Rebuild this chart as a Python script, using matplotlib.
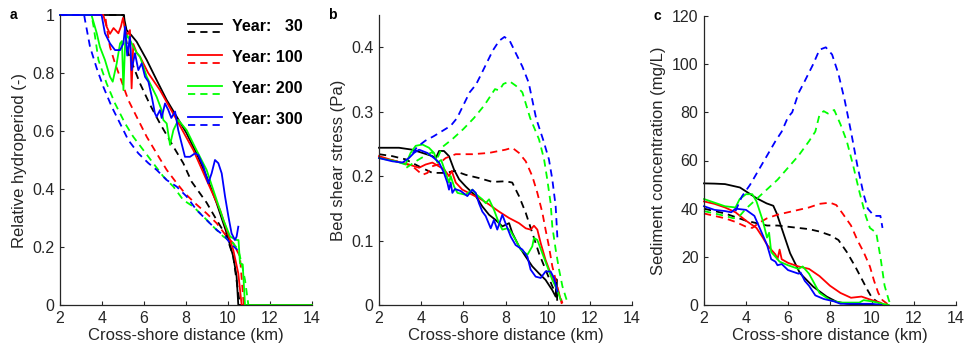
import matplotlib
matplotlib.use("Agg")
import matplotlib.pyplot as plt

plt.rcParams['font.family'] = ['Liberation Sans', 'DejaVu Sans']

# ---------------- Data ----------------
years = ["Year:   30", "Year: 100", "Year: 200", "Year: 300"]
colors = ["#000000", "#ff0000", "#00ff00", "#0000ff"]

# Panel a: relative hydroperiod
a_blk_s_x = [2, 5.02, 5.17, 5.4, 5.65, 6.13, 6.6, 7.08, 7.56, 8.03, 8.5, 8.98, 9.46, 9.94, 10.25, 10.41, 10.49, 14]
a_blk_s_y = [1, 1, 0.948, 0.93, 0.908, 0.845, 0.776, 0.707, 0.649, 0.592, 0.523, 0.443, 0.351, 0.247, 0.167, 0.098, 0, 0]
a_red_s_x = [2, 4.06, 4.22, 4.38, 4.55, 4.78, 4.9, 5.0, 5.1, 5.2, 5.33, 5.41, 5.49, 5.65, 5.81, 6.2, 6.76, 7.56, 8.35, 8.98, 9.62, 9.94, 10.25, 10.49, 10.65, 14]
a_red_s_y = [1, 1, 0.96, 0.935, 0.955, 0.937, 0.96, 0.99, 0.95, 0.93, 0.948, 0.747, 0.9, 0.87, 0.856, 0.80, 0.741, 0.638, 0.534, 0.431, 0.328, 0.259, 0.19, 0.109, 0, 0]
a_grn_s_x = [2, 3.5, 3.75, 3.9, 4.14, 4.38, 4.51, 4.7, 4.86, 4.95, 5.02, 5.1, 5.2, 5.33, 5.5, 5.65, 5.81, 6.13, 6.6, 6.84, 6.92, 7.08, 7.24, 7.4, 7.63, 8.03, 8.5, 8.98, 9.46, 9.78, 10.1, 10.41, 10.5, 10.57, 10.7, 10.81, 14]
a_grn_s_y = [1, 1, 0.937, 0.89, 0.845, 0.787, 0.77, 0.833, 0.902, 0.91, 0.741, 0.9, 0.93, 0.914, 0.89, 0.87, 0.856, 0.787, 0.718, 0.672, 0.638, 0.626, 0.552, 0.603, 0.638, 0.603, 0.534, 0.466, 0.362, 0.293, 0.236, 0.224, 0.224, 0.144, 0.14, 0, 0]
a_blu_s_x = [2, 3.98, 4.14, 4.38, 4.62, 4.86, 5.02, 5.1, 5.2, 5.33, 5.41, 5.57, 5.73, 5.89, 6.05, 6.21, 6.37, 6.52, 6.6, 6.76, 6.84, 7.0, 7.16, 7.3, 7.48, 7.63, 7.79, 7.95, 8.19, 8.43, 8.59, 8.83, 9.06, 9.22, 9.38, 9.54, 9.7, 9.86, 10.02, 10.17, 10.33, 10.41, 10.49]
a_blu_s_y = [1, 1, 0.937, 0.902, 0.879, 0.879, 0.902, 0.96, 0.86, 0.925, 0.81, 0.868, 0.81, 0.833, 0.787, 0.77, 0.718, 0.661, 0.649, 0.672, 0.645, 0.695, 0.672, 0.645, 0.667, 0.603, 0.557, 0.511, 0.511, 0.523, 0.517, 0.477, 0.42, 0.454, 0.5, 0.489, 0.454, 0.374, 0.305, 0.247, 0.224, 0.236, 0.27]

a_blk_d_x = [2, 5.05, 5.1, 5.25, 5.81, 6.29, 6.76, 7.4, 7.87, 8.27, 8.98, 9.46, 9.94, 10.25, 10.57]
a_blk_d_y = [1, 1, 0.94, 0.868, 0.764, 0.69, 0.626, 0.546, 0.489, 0.425, 0.353, 0.293, 0.236, 0.167, 0]
a_red_d_x = [2, 4.15, 4.22, 4.38, 4.62, 4.94, 5.25, 5.65, 6.13, 6.6, 7.08, 7.56, 7.95, 8.43, 8.98, 9.46, 9.94, 10.25, 10.57, 10.75]
a_red_d_y = [1, 1, 0.96, 0.89, 0.833, 0.77, 0.707, 0.649, 0.58, 0.523, 0.466, 0.42, 0.385, 0.351, 0.316, 0.282, 0.236, 0.213, 0.167, 0]
a_grn_d_x = [2, 3.5, 3.6, 3.83, 4.22, 4.62, 5.1, 5.49, 5.97, 6.44, 6.92, 7.4, 7.87, 8.35, 8.83, 9.3, 9.78, 10.25, 10.49, 10.65, 10.81, 10.97]
a_grn_d_y = [1, 1, 0.96, 0.845, 0.764, 0.695, 0.626, 0.58, 0.534, 0.489, 0.443, 0.408, 0.362, 0.339, 0.305, 0.27, 0.236, 0.213, 0.19, 0.144, 0.086, 0]
a_blu_d_x = [2, 3.15, 3.19, 3.43, 3.75, 4.06, 4.46, 4.86, 5.25, 5.73, 6.21, 6.6, 7.08, 7.56, 8.03, 8.5, 8.98, 9.46, 9.86, 10.1, 10.45]
a_blu_d_y = [1, 1, 0.983, 0.89, 0.816, 0.753, 0.684, 0.626, 0.569, 0.523, 0.489, 0.466, 0.431, 0.408, 0.374, 0.328, 0.293, 0.259, 0.236, 0.213, 0.19]

# Panel b: bed shear stress
b_blk_s_x = [2, 2.95, 3.58, 4.06, 4.53, 4.7, 4.85, 5.08, 5.32, 5.56, 5.8, 6.11, 6.59, 6.9, 7.22, 7.53, 7.85, 8.17, 8.32, 8.64, 8.96, 9.27, 9.59, 9.9, 10.22, 10.38, 10.42, 10.45]
b_blk_s_y = [0.244, 0.244, 0.241, 0.236, 0.231, 0.228, 0.239, 0.239, 0.231, 0.21, 0.195, 0.184, 0.169, 0.153, 0.14, 0.132, 0.122, 0.127, 0.112, 0.091, 0.075, 0.06, 0.049, 0.039, 0.023, 0.013, 0.04, 0.008]
b_red_s_x = [2, 2.79, 3.42, 3.9, 4.21, 4.53, 4.85, 5.1, 5.32, 5.45, 5.64, 5.95, 6.43, 6.74, 7.22, 7.69, 8.17, 8.64, 8.96, 9.19, 9.35, 9.51, 9.67, 9.9, 10.14, 10.38, 10.54, 10.66]
b_red_s_y = [0.231, 0.223, 0.218, 0.213, 0.218, 0.221, 0.215, 0.21, 0.2, 0.208, 0.19, 0.179, 0.171, 0.166, 0.156, 0.145, 0.135, 0.127, 0.119, 0.117, 0.123, 0.117, 0.096, 0.07, 0.049, 0.029, 0.018, 0.003]
b_grn_s_x = [2, 2.8, 3.26, 3.5, 3.74, 4.06, 4.37, 4.61, 4.77, 4.95, 5.16, 5.32, 5.4, 5.56, 5.72, 6.11, 6.43, 6.6, 6.9, 7.06, 7.22, 7.45, 7.69, 7.85, 8.09, 8.25, 8.48, 8.72, 9.04, 9.27, 9.35, 9.51, 9.75, 9.98, 10.22, 10.46, 10.62]
b_grn_s_y = [0.228, 0.223, 0.218, 0.236, 0.247, 0.249, 0.244, 0.236, 0.221, 0.225, 0.205, 0.19, 0.2, 0.184, 0.174, 0.171, 0.179, 0.172, 0.164, 0.158, 0.164, 0.148, 0.127, 0.117, 0.119, 0.114, 0.101, 0.086, 0.078, 0.091, 0.104, 0.101, 0.08, 0.06, 0.039, 0.023, 0.008]
b_blu_s_x = [2, 2.63, 3.11, 3.42, 3.66, 3.9, 4.29, 4.61, 4.85, 5.08, 5.24, 5.32, 5.4, 5.48, 5.6, 5.87, 6.19, 6.43, 6.59, 6.74, 6.9, 7.06, 7.3, 7.45, 7.61, 7.85, 8.0, 8.25, 8.48, 8.8, 9.04, 9.19, 9.43, 9.67, 9.9, 10.14, 10.3, 10.46]
b_blu_s_y = [0.228, 0.223, 0.221, 0.228, 0.236, 0.241, 0.236, 0.228, 0.221, 0.205, 0.19, 0.179, 0.19, 0.174, 0.18, 0.177, 0.169, 0.179, 0.174, 0.158, 0.145, 0.138, 0.119, 0.132, 0.117, 0.14, 0.127, 0.106, 0.093, 0.086, 0.075, 0.055, 0.044, 0.042, 0.052, 0.052, 0.042, 0.021]

b_blk_d_x = [2, 2.63, 3.26, 3.9, 4.53, 5.16, 5.6, 6.11, 6.74, 7.38, 8.0, 8.32, 8.64, 8.96, 9.27, 9.59, 9.9, 10.22, 10.46]
b_blk_d_y = [0.234, 0.231, 0.226, 0.215, 0.205, 0.205, 0.208, 0.202, 0.197, 0.191, 0.192, 0.19, 0.169, 0.143, 0.112, 0.08, 0.055, 0.029, 0.013]
b_red_d_x = [2, 3.0, 3.6, 4.06, 4.3, 4.5, 4.8, 5.16, 5.64, 6.43, 7.22, 8.0, 8.32, 8.64, 8.96, 9.27, 9.51, 9.75, 9.9, 10.06, 10.22, 10.38, 10.54, 10.7]
b_red_d_y = [0.229, 0.222, 0.215, 0.202, 0.205, 0.215, 0.218, 0.228, 0.234, 0.234, 0.236, 0.241, 0.244, 0.236, 0.223, 0.2, 0.174, 0.143, 0.117, 0.091, 0.06, 0.039, 0.018, 0.003]
b_grn_d_x = [3.3, 3.7, 4.0, 4.5, 4.8, 5.0, 5.5, 6.0, 6.5, 7.0, 7.3, 7.5, 7.7, 7.9, 8.2, 8.5, 8.8, 9.17, 9.59, 9.83, 9.98, 10.14, 10.22, 10.38, 10.54, 10.7, 10.85, 10.95]
b_grn_d_y = [0.213, 0.222, 0.228, 0.237, 0.23, 0.245, 0.258, 0.273, 0.29, 0.31, 0.325, 0.335, 0.333, 0.343, 0.347, 0.34, 0.33, 0.29, 0.257, 0.226, 0.195, 0.158, 0.122, 0.086, 0.055, 0.029, 0.013, 0.003]
b_blu_d_x = [3.6, 3.8, 4.2, 4.6, 5.0, 5.4, 5.7, 6.0, 6.3, 6.6, 6.8, 7.1, 7.4, 7.7, 7.95, 8.2, 8.5, 8.8, 9.1, 9.45, 9.8, 10.06, 10.22, 10.38, 10.46]
b_blu_d_y = [0.235, 0.245, 0.255, 0.262, 0.27, 0.278, 0.29, 0.31, 0.33, 0.342, 0.355, 0.375, 0.395, 0.41, 0.416, 0.41, 0.39, 0.37, 0.345, 0.29, 0.255, 0.226, 0.195, 0.153, 0.105]

# Panel c: sediment concentration
c_blk_s_x = [2, 2.5, 3.0, 3.71, 4.51, 4.98, 5.3, 5.46, 5.78, 6.1, 6.57, 7.2, 7.84, 8.3, 8.8, 9.3, 10.5]
c_blk_s_y = [50.5, 50.4, 50.2, 48.8, 44.3, 42.2, 41.2, 38.1, 29.8, 21.5, 13.2, 7.6, 3.5, 1.4, 0.5, 0.1, 0]
c_red_s_x = [2, 2.5, 3.0, 3.5, 4.0, 4.5, 4.8, 5.0, 5.2, 5.4, 5.5, 5.6, 5.7, 6.0, 6.5, 7.0, 7.5, 8.0, 8.5, 9.0, 9.5, 10.0, 10.4, 10.6]
c_red_s_y = [43, 42, 40.5, 38.5, 35, 32, 28, 25, 23, 21, 19, 23, 19, 17.5, 16, 15, 12, 8, 5, 3, 3.5, 2, 1, 0]
c_grn_s_x = [2, 2.5, 3.0, 3.5, 3.7, 4.0, 4.3, 4.5, 4.8, 5.0, 5.1, 5.2, 5.4, 5.6, 6.0, 6.5, 6.7, 7.0, 7.5, 8.0, 8.5, 9.4, 9.6, 10.0, 10.5, 10.8]
c_grn_s_y = [44, 42.5, 41, 40.5, 44, 46, 46, 43, 35, 28, 30, 22, 20, 18, 16.5, 15, 16, 13, 5, 2, 1, 1, 2, 1.5, 0.5, 0]
c_blu_s_x = [2, 2.5, 3.0, 3.3, 3.5, 4.0, 4.4, 4.7, 5.0, 5.2, 5.4, 5.5, 5.7, 6.0, 6.5, 6.6, 6.8, 7.0, 7.3, 7.7, 8.2, 8.5, 9.0, 10.0, 10.45]
c_blu_s_y = [41, 39.5, 39, 38.5, 40, 39.5, 37, 31, 25, 19, 18, 16.5, 17, 14.5, 13, 13.5, 10, 8, 4, 2.5, 1.5, 0.5, 0.5, 0.5, 0]

c_blk_d_x = [2, 3.0, 3.5, 4.0, 4.5, 5.0, 5.5, 6.0, 6.5, 7.0, 7.5, 8.0, 8.4, 8.8, 9.2, 9.5, 9.8, 10.0, 10.3, 10.5]
c_blk_d_y = [40, 38, 36.5, 35, 34, 33, 33, 32.5, 32, 31.5, 30.5, 29, 27, 22, 16, 11, 6, 3, 1, 0]
c_red_d_x = [2, 3.0, 3.5, 4.0, 4.3, 4.6, 5.0, 5.5, 6.0, 6.5, 7.0, 7.5, 8.0, 8.3, 8.6, 9.0, 9.3, 9.6, 9.9, 10.1, 10.3, 10.5, 10.8]
c_red_d_y = [38, 36, 34.5, 32.5, 32, 34, 36, 37.5, 38.5, 39.5, 40.5, 42, 42.5, 41.5, 38, 33, 27, 22, 16, 10, 5, 2, 0]
c_grn_d_x = [2, 2.5, 3.0, 3.4, 3.7, 4.0, 4.5, 5.0, 5.5, 6.0, 6.5, 7.0, 7.3, 7.5, 7.7, 7.9, 8.2, 8.5, 8.8, 9.1, 9.4, 9.7, 9.9, 10.2, 10.4, 10.6, 10.8, 10.9]
c_grn_d_y = [39, 38, 37, 36, 37, 40, 44, 48, 52, 57, 62, 68, 72, 79, 80.5, 79.5, 81, 75, 68, 58, 47, 37, 32, 30, 20, 8, 2, 0]
c_blu_d_x = [3.5, 3.8, 4.2, 4.6, 5.0, 5.4, 5.7, 6.0, 6.2, 6.5, 6.8, 7.2, 7.5, 7.8, 8.1, 8.4, 8.7, 9.0, 9.3, 9.6, 9.8, 10.1, 10.4, 10.5]
c_blu_d_y = [39, 45, 50, 56, 62, 68, 72, 78, 80, 88, 93, 100, 106, 107, 104, 96, 85, 72, 58, 46, 40, 37, 37, 32]

xticks = [2, 4, 6, 8, 10, 12, 14]
a_yticks = [0, 0.2, 0.4, 0.6, 0.8, 1]
a_yticklabels = ["0", "0.2", "0.4", "0.6", "0.8", "1"]
b_yticks = [0, 0.1, 0.2, 0.3, 0.4]
b_yticklabels = ["0", "0.1", "0.2", "0.3", "0.4"]
c_yticks = [0, 20, 40, 60, 80, 100, 120]

xlabel = "Cross-shore distance (km)"
ylabels = ["Relative hydroperiod (-)", "Bed shear stress (Pa)", "Sediment concentration (mg/L)"]
panel_letters = ["a", "b", "c"]

# ---------------- Figure ----------------
W, H = 969, 352
fig = plt.figure(figsize=(W / 100, H / 100), dpi=100)
axc = "#262626"
lw = 1.3
dash = (0, (4.0, 2.8))

rects = [(60, 15, 252, 290), (379, 15, 253, 290), (704, 16, 252, 289)]
axes = []
for (l, t, w, h) in rects:
    ax = fig.add_axes([l / W, (H - t - h) / H, w / W, h / H])
    axes.append(ax)

solid_sets = [
    [(a_blk_s_x, a_blk_s_y), (a_red_s_x, a_red_s_y), (a_grn_s_x, a_grn_s_y), (a_blu_s_x, a_blu_s_y)],
    [(b_blk_s_x, b_blk_s_y), (b_red_s_x, b_red_s_y), (b_grn_s_x, b_grn_s_y), (b_blu_s_x, b_blu_s_y)],
    [(c_blk_s_x, c_blk_s_y), (c_red_s_x, c_red_s_y), (c_grn_s_x, c_grn_s_y), (c_blu_s_x, c_blu_s_y)],
]
dash_sets = [
    [(a_blk_d_x, a_blk_d_y), (a_red_d_x, a_red_d_y), (a_grn_d_x, a_grn_d_y), (a_blu_d_x, a_blu_d_y)],
    [(b_blk_d_x, b_blk_d_y), (b_red_d_x, b_red_d_y), (b_grn_d_x, b_grn_d_y), (b_blu_d_x, b_blu_d_y)],
    [(c_blk_d_x, c_blk_d_y), (c_red_d_x, c_red_d_y), (c_grn_d_x, c_grn_d_y), (c_blu_d_x, c_blu_d_y)],
]

for i, ax in enumerate(axes):
    for j in range(4):
        sx, sy = solid_sets[i][j]
        dx, dy = dash_sets[i][j]
        ax.plot(sx, sy, color=colors[j], lw=lw, clip_on=False)
        ax.plot(dx, dy, color=colors[j], lw=lw, linestyle=dash, clip_on=False)

ylims = [(0, 1), (0, 0.45), (0, 120)]
yticks = [a_yticks, b_yticks, c_yticks]
for i, ax in enumerate(axes):
    ax.set_xlim(2, 14)
    ax.set_ylim(*ylims[i])
    ax.set_xticks(xticks)
    ax.set_yticks(yticks[i])
    ax.spines['top'].set_visible(False)
    ax.spines['right'].set_visible(False)
    for s in ('left', 'bottom'):
        ax.spines[s].set_color(axc)
        ax.spines[s].set_linewidth(0.9)
    ax.tick_params(direction='in', length=3, width=0.8, colors=axc, labelsize=11.5, pad=4)
    ax.set_xlabel(xlabel, fontsize=12, color=axc, labelpad=2)
    ax.set_ylabel(ylabels[i], fontsize=12, color=axc, labelpad=4)
    ax.text(-0.2, 1.0, panel_letters[i], transform=ax.transAxes, fontsize=10,
            fontweight='bold', va='center', ha='left')

axes[0].set_yticklabels(a_yticklabels)
axes[1].set_yticklabels(b_yticklabels)

# Legend in panel a (two-line sample per year)
lx0, lx1, tx = 0.508, 0.643, 0.683
for j in range(4):
    ys = 0.969 - j * 0.107
    yd = ys - 0.028
    axes[0].plot([lx0, lx1], [ys, ys], color=colors[j], lw=lw, transform=axes[0].transAxes, clip_on=False)
    axes[0].plot([lx0, lx1], [yd, yd], color=colors[j], lw=lw, linestyle=dash,
                 transform=axes[0].transAxes, clip_on=False)
    axes[0].text(tx, ys - 0.008, years[j], transform=axes[0].transAxes, fontsize=11.5,
                 fontweight='bold', va='center', ha='left')

fig.savefig("out.png", dpi=100)
